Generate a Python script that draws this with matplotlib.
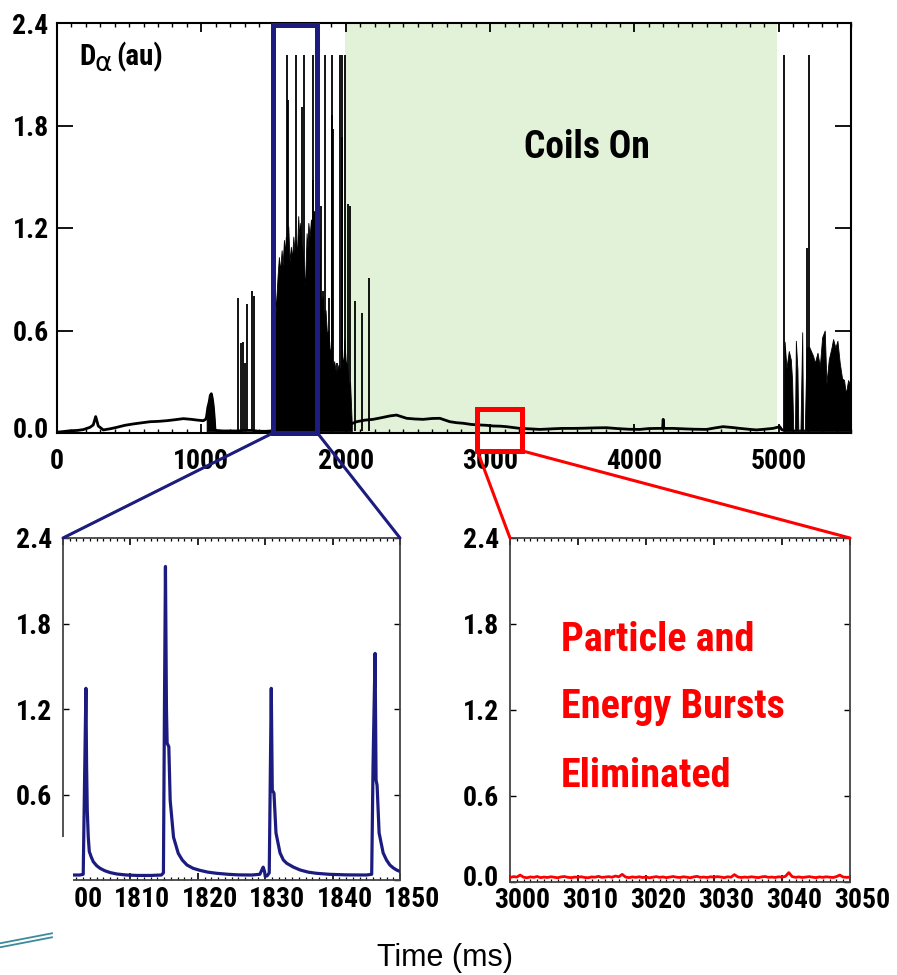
import numpy as np
import matplotlib
matplotlib.use('Agg')
import matplotlib.pyplot as plt
from matplotlib import font_manager as fm
from matplotlib.patches import Rectangle, ConnectionPatch
from matplotlib.lines import Line2D
from matplotlib.transforms import ScaledTranslation
from matplotlib.ticker import MultipleLocator

# ---------------- data ----------------
# overview trace: slowly varying baseline (time ms, D-alpha au)
base_t = [0, 40, 90, 140, 182, 228, 251, 268, 286, 321, 370, 413, 470, 528, 590, 644, 700,
          760, 820, 875, 930, 967, 1013, 1030, 1036, 1045, 1054, 1062, 1069, 1076, 1083,
          1090, 1094, 1100, 1150, 1200, 1250, 1300, 1350, 1400, 1450, 1480,
          2042, 2075, 2130, 2190, 2250, 2306, 2352, 2400, 2422, 2480, 2537, 2600, 2652,
          2690, 2722, 2770, 2814, 2870, 2929, 2975, 3021, 3070, 3114, 3160, 3206, 3280,
          3345, 3420, 3500, 3576, 3650, 3730, 3806, 3880, 3960, 4037, 4100, 4160, 4195,
          4199, 4203, 4268, 4350, 4420, 4499, 4560, 4614, 4680, 4730, 4790, 4845, 4900,
          4960, 5006, 5020, 5035]
base_v = [0.005, 0.008, 0.013, 0.015, 0.020, 0.033, 0.047, 0.096, 0.041, 0.018, 0.025,
          0.033, 0.045, 0.053, 0.060, 0.066, 0.068, 0.072, 0.078, 0.084, 0.080, 0.076,
          0.072, 0.080, 0.095, 0.150, 0.180, 0.220, 0.230, 0.200, 0.154, 0.080, 0.020,
          0.015, 0.012, 0.012, 0.012, 0.015, 0.015, 0.010, 0.010, 0.012,
          0.055, 0.066, 0.075, 0.080, 0.090, 0.100, 0.105, 0.092, 0.086, 0.082, 0.080,
          0.085, 0.086, 0.075, 0.066, 0.060, 0.057, 0.050, 0.047, 0.045, 0.041, 0.040,
          0.037, 0.032, 0.027, 0.024, 0.021, 0.024, 0.027, 0.027, 0.028, 0.030, 0.031,
          0.026, 0.022, 0.021, 0.026, 0.027, 0.027, 0.080, 0.027, 0.027, 0.024, 0.022,
          0.021, 0.030, 0.037, 0.032, 0.027, 0.022, 0.018, 0.022, 0.027, 0.037, 0.020,
          0.015]

# individual bursts (ELM spikes) in the overview
spike_t = [1251, 1272, 1286, 1302, 1318, 1348, 1366,
           1510, 1591, 1597, 1653, 1699, 1711, 1770, 1775,
           1826, 1844, 1856, 1884, 1902, 1907, 1914, 1937, 1958, 1972, 1976, 1998,
           2018, 2030, 2064, 2110, 2163,
           5035, 5192, 5208]
spike_v = [0.79, 0.525, 0.53, 0.41, 0.755, 0.83, 0.80,
           1.49, 2.21, 1.95, 2.21, 1.91, 2.21, 2.21, 1.48,
           1.33, 0.83, 2.21, 0.79, 2.21, 1.86, 1.78, 0.41, 2.21, 2.21, 1.73, 2.21,
           1.34, 1.33, 0.77, 0.70, 0.905,
           2.21, 1.08, 2.21]

# envelopes of the densely bursting intervals
dense1_t = [1482, 1506, 1509, 1515, 1520, 1528, 1537, 1546, 1556, 1563, 1572, 1579, 1585,
            1593, 1602, 1611, 1620, 1628, 1637, 1645, 1653, 1662, 1671, 1678, 1685, 1693,
            1701, 1709, 1717, 1723, 1729, 1735, 1741, 1750, 1759, 1768, 1780, 1790, 1800,
            1808, 1815, 1822, 1831, 1840, 1850, 1860, 1870, 1880, 1890, 1900, 1910, 1920,
            1935, 1950, 1962, 1975, 1983, 1990, 2000, 2010, 2020, 2030, 2042]
dense1_v = [0.02, 0.02, 0.85, 0.70, 0.80, 0.92, 1.03, 0.95, 1.07, 0.98, 1.13, 1.05, 1.15,
            1.08, 1.21, 1.00, 1.09, 1.02, 1.15, 1.06, 1.13, 1.05, 1.27, 1.15, 1.23, 1.10,
            1.07, 0.95, 0.86, 1.00, 1.17, 1.08, 1.23, 1.15, 1.25, 1.18, 1.30, 1.22, 1.32,
            1.20, 1.30, 0.85, 0.74, 0.80, 0.66, 0.72, 0.58, 0.60, 0.48, 0.50, 0.38, 0.42,
            0.34, 0.40, 0.36, 0.45, 0.40, 0.55, 0.42, 0.40, 0.28, 0.30, 0.05]
dense2_t = [5036, 5040, 5053, 5069, 5083, 5092, 5100, 5112, 5118, 5129, 5135, 5150, 5162,
            5168, 5180, 5192, 5210, 5238, 5249, 5268, 5284, 5300, 5318, 5330, 5346, 5365,
            5376, 5392, 5406, 5422, 5438, 5452, 5464, 5480, 5500]
dense2_v = [0.02, 0.535, 0.38, 0.48, 0.43, 0.31, 0.02, 0.02, 0.54, 0.37, 0.02, 0.02, 0.59,
            0.02, 0.02, 0.50, 0.505, 0.45, 0.41, 0.47, 0.39, 0.56, 0.60, 0.29, 0.43, 0.50,
            0.55, 0.50, 0.54, 0.41, 0.32, 0.31, 0.23, 0.31, 0.27]

coils_on, coils_off = 1995, 4985
blue_box = (1496, 1804)
red_box = (2912, 3224)

# zoom 1: before coils (1800-1850 ms)
elm_t = [1801.6, 1802.5, 1803.0, 1803.2, 1803.4, 1803.5, 1803.6, 1803.75, 1803.9, 1804.2,
         1804.5, 1805.0, 1805.5, 1806.2, 1807.0, 1808.0, 1809.4, 1811.0, 1813.0, 1814.6,
         1814.9, 1815.05, 1815.2, 1815.35, 1815.45, 1815.7, 1815.9, 1816.4, 1817.1,
         1817.7, 1818.4, 1819.3, 1820.3, 1821.5, 1822.8, 1824.5, 1826.0, 1828.0, 1829.2,
         1829.5, 1829.7, 1829.9, 1830.0, 1830.3, 1830.6, 1830.75, 1830.9, 1831.05,
         1831.3, 1831.6, 1832.2, 1832.7, 1833.2, 1834.2, 1835.2, 1836.4, 1837.6, 1839.5,
         1842.0, 1845.0, 1845.8, 1846.0, 1846.3, 1846.45, 1846.6, 1846.9, 1847.5, 1848.0,
         1848.5, 1849.0, 1849.5, 1850.0]
elm_v = [0.035, 0.035, 0.040, 0.700, 1.345, 0.800, 0.490, 0.300, 0.200, 0.160,
         0.128, 0.100, 0.082, 0.065, 0.052, 0.042, 0.035, 0.032, 0.032, 0.035,
         0.050, 1.200, 2.200, 1.200, 0.960, 0.935, 0.560, 0.300, 0.187,
         0.140, 0.105, 0.082, 0.068, 0.055, 0.047, 0.040, 0.036, 0.035, 0.040,
         0.070, 0.090, 0.060, 0.025, 0.030, 0.050, 0.700, 1.345, 0.630,
         0.610, 0.330, 0.190, 0.140, 0.117, 0.090, 0.070, 0.055, 0.047, 0.040,
         0.036, 0.035, 0.040, 0.800, 1.590, 0.700, 0.665, 0.330, 0.190, 0.140,
         0.105, 0.085, 0.070, 0.060]

# zoom 2: coils on (3000-3050 ms), sampled every 0.5 ms
red_v = [0.028, 0.034, 0.031, 0.045, 0.030, 0.026, 0.032, 0.029, 0.035, 0.027,
         0.031, 0.028, 0.033, 0.030, 0.026, 0.032, 0.035, 0.029, 0.027, 0.031,
         0.030, 0.033, 0.028, 0.026, 0.032, 0.030, 0.036, 0.029, 0.031, 0.034,
         0.030, 0.038, 0.033, 0.050, 0.031, 0.027, 0.032, 0.029, 0.033, 0.028,
         0.031, 0.026, 0.030, 0.034, 0.029, 0.032, 0.027, 0.031, 0.035, 0.030,
         0.028, 0.033, 0.030, 0.026, 0.032, 0.036, 0.029, 0.031, 0.028, 0.033,
         0.030, 0.034, 0.031, 0.027, 0.033, 0.030, 0.048, 0.032, 0.028, 0.031,
         0.029, 0.033, 0.030, 0.027, 0.032, 0.035, 0.029, 0.031, 0.028, 0.033,
         0.030, 0.036, 0.062, 0.034, 0.029, 0.032, 0.028, 0.031, 0.034, 0.030,
         0.027, 0.032, 0.029, 0.033, 0.030, 0.028, 0.034, 0.045, 0.031, 0.029, 0.030]
red_t = np.linspace(3000, 3050, len(red_v))

y_ticks = [0.0, 0.6, 1.2, 1.8, 2.4]
y_labels = ['0.0', '0.6', '1.2', '1.8', '2.4']
top_xticks = [0, 1000, 2000, 3000, 4000, 5000]
bl_xticks = [1800, 1810, 1820, 1830, 1840, 1850]
br_xticks = [3000, 3010, 3020, 3030, 3040, 3050]

# ---------------- fonts ----------------
def pick_condensed():
    names = {f.name for f in fm.fontManager.ttflist}
    for n in ['Liberation Sans Narrow', 'Arial Narrow', 'Nimbus Sans Narrow',
              'Roboto Condensed', 'Open Sans Condensed', 'DejaVu Sans Condensed']:
        if n in names:
            return n, 'normal'
    for f in fm.fontManager.ttflist:
        if f.name == 'DejaVu Sans' and 'condensed' in str(f.stretch):
            return 'DejaVu Sans', 'condensed'
    return 'Liberation Sans', 'normal'

COND_FAM, COND_STRETCH = pick_condensed()

def cfont(size, weight='bold'):
    return fm.FontProperties(family=[COND_FAM, 'DejaVu Sans'], stretch=COND_STRETCH,
                             weight=weight, size=size)

W, H = 897, 975
def fx(x):
    return x / W
def fy(y):
    return 1 - y / H

NAVY = '#1c1c80'
RED = '#ff0000'

fig = plt.figure(figsize=(W / 100, H / 100), dpi=100)
fig.patch.set_facecolor('white')

def lift_zero_label(a, px=7):
    up = ScaledTranslation(0, px / 100, fig.dpi_scale_trans)
    tk = a.yaxis.get_major_ticks()[0]
    tk.label1.set_transform(tk.label1.get_transform() + up)

# ---------------- top overview ----------------
ax = fig.add_axes([fx(57), fy(433), (851 - 57) / W, (433 - 23) / H])
ax.set_xlim(0, 5500)
ax.set_ylim(0, 2.4)
ax.axvspan(coils_on, coils_off, color='#e2f2d8', lw=0, zorder=0)
bt = np.array(base_t)
bv = np.array(base_v)
ax.fill_between(bt, 0.01, bv, where=(bt >= 1036) & (bt <= 1094), color='black', lw=0.5, zorder=3)
ax.plot(base_t, base_v, color='black', lw=2.0, zorder=3)
ax.fill_between(dense1_t, 0.01, dense1_v, color='black', lw=0.6, zorder=3)
ax.fill_between(dense2_t, 0.01, dense2_v, color='black', lw=0.6, zorder=3)
ax.vlines(spike_t, 0.01, spike_v, color='black', lw=1.3, zorder=3)

ax.set_xticks(top_xticks)
ax.xaxis.set_minor_locator(MultipleLocator(100))
ax.set_yticks(y_ticks)
ax.set_yticklabels(y_labels)
ax.tick_params(axis='x', which='major', direction='in', length=6.5, width=1.3,
               top=True, bottom=True, pad=10.5)
ax.tick_params(axis='x', which='minor', direction='in', length=3, width=1.0,
               top=True, bottom=True)
ax.tick_params(axis='y', which='major', direction='in', length=11.5, width=1.3,
               left=True, right=True, pad=6)
for s in ax.spines.values():
    s.set_linewidth(1.5)
for lab in ax.get_xticklabels() + ax.get_yticklabels():
    lab.set_fontproperties(cfont(20))
lift_zero_label(ax, 6)

ax.add_patch(Rectangle((blue_box[0], 0), blue_box[1] - blue_box[0], 2.386, fill=False,
                       edgecolor=NAVY, lw=3.6, clip_on=False, zorder=6))
ax.add_patch(Rectangle((red_box[0], -0.105), red_box[1] - red_box[0], 0.245, fill=False,
                       edgecolor=RED, lw=3.6, clip_on=False, zorder=6))

fig.text(fx(587), fy(148), 'Coils On', ha='center', va='center', fontproperties=cfont(27))
fig.text(fx(79), fy(65), 'D', ha='left', va='baseline', fontproperties=cfont(21))
fig.text(fx(94), fy(71), '\u03b1', ha='left', va='baseline', fontsize=19,
         family=['DejaVu Sans'])
fig.text(fx(116), fy(65), '(au)', ha='left', va='baseline', fontproperties=cfont(21))

# ---------------- bottom panels ----------------
def style_small(a, xt):
    a.set_ylim(0, 2.4)
    a.set_xlim(xt[0], xt[-1])
    a.set_xticks(xt)
    a.xaxis.set_minor_locator(MultipleLocator(1))
    a.set_yticks(y_ticks)
    a.set_yticklabels(y_labels)
    a.tick_params(axis='x', which='major', direction='in', length=5, width=1.2,
                  top=True, bottom=True, pad=4)
    a.tick_params(axis='x', which='minor', direction='in', length=2.5, width=0.9,
                  top=True, bottom=True)
    a.tick_params(axis='y', which='major', direction='in', length=4, width=1.0,
                  left=True, right=True, pad=8)
    for s in a.spines.values():
        s.set_linewidth(1.3)
        s.set_color('#444444')
    for lab in a.get_xticklabels() + a.get_yticklabels():
        lab.set_fontproperties(cfont(20))
    off = ScaledTranslation(12 / 100, 0, fig.dpi_scale_trans)
    for tk in a.xaxis.get_major_ticks():
        tk.label1.set_transform(tk.label1.get_transform() + off)
    lift_zero_label(a, 6)

axl = fig.add_axes([fx(63), fy(880), (400 - 63) / W, (880 - 538) / H])
axl.plot(elm_t, elm_v, color=NAVY, lw=2.3, zorder=3)
style_small(axl, bl_xticks)

axr = fig.add_axes([fx(510), fy(881.5), (850 - 510) / W, (881.5 - 538) / H])
axr.plot(red_t, red_v, color=RED, lw=2.0, zorder=3)
style_small(axr, br_xticks)

for txt, yb in [('Particle and', 650.7), ('Energy Bursts', 718.3), ('Eliminated', 786.7)]:
    fig.text(fx(561), fy(yb), txt, ha='left', va='baseline', color=RED,
             fontproperties=cfont(29))

# ---------------- connectors ----------------
for (xa, ya, xb, yb, a2, col) in [
        (blue_box[0], 0.0, 1800, 2.4, axl, NAVY),
        (blue_box[1], 0.0, 1850, 2.4, axl, NAVY),
        (red_box[0], -0.105, 3000, 2.4, axr, RED),
        (red_box[1], -0.105, 3050, 2.4, axr, RED)]:
    con = ConnectionPatch(xyA=(xa, ya), coordsA=ax.transData, xyB=(xb, yb),
                          coordsB=a2.transData, color=col, lw=2.2, zorder=5)
    fig.add_artist(con)

# slide decoration: white patch and teal lines at lower-left
fig.add_artist(Rectangle((0, 0), fx(73), 1 - (837 / H), transform=fig.transFigure,
                         facecolor='white', edgecolor='none', zorder=10))
for y0, y1 in [(943.3, 933.3), (947.3, 937.3)]:
    fig.add_artist(Line2D([0, fx(52)], [fy(y0), fy(y1)], transform=fig.transFigure,
                          color='#3b8b9b', lw=1.3, zorder=11))

fig.text(fx(445), fy(958), 'Time (ms)', ha='center', va='center', fontsize=22,
         family=['Liberation Sans', 'DejaVu Sans'])

fig.savefig('out.png', dpi=100, facecolor='white')
